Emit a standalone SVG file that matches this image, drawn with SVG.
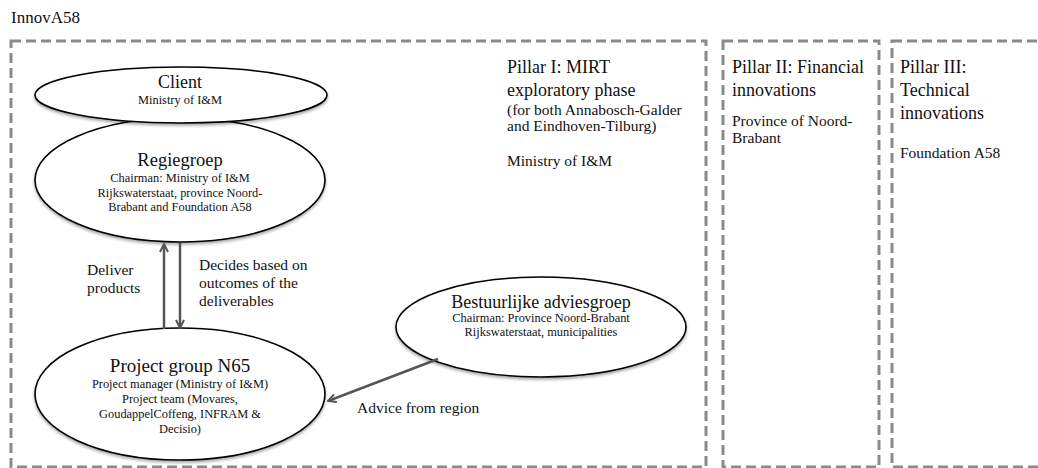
<svg xmlns="http://www.w3.org/2000/svg" width="1038" height="468" viewBox="0 0 1038 468">
<style>
.t{font-family:"Liberation Serif","Times New Roman",serif;fill:#111}
.big{font-size:18px}
.mid{font-size:15.5px}
.sm{font-size:12.4px}
.box{fill:none;stroke:#8a8a8a;stroke-width:3;stroke-dasharray:10 5}
.node{fill:#fff;stroke:#000;stroke-width:1.6;filter:url(#sh)}
.conn{stroke:#555;stroke-width:2.5;fill:none;marker-end:url(#ah)}
</style>
<defs>
<filter id="sh" x="-10%" y="-10%" width="120%" height="130%">
<feDropShadow dx="0" dy="2" stdDeviation="1.5" flood-color="#000" flood-opacity="0.35"/>
</filter>
<marker id="ah" viewBox="0 0 10 10" refX="9" refY="5" markerWidth="10" markerHeight="10" markerUnits="userSpaceOnUse" orient="auto">
<path d="M1,1 L9,5 L1,9" fill="none" stroke="#555" stroke-width="2"/>
</marker>
</defs>
<rect width="1038" height="468" fill="#fff"/>
<text class="t" x="11" y="23" font-size="17">InnovA58</text>
<g id="pillar1">
<rect class="box" x="11" y="41" width="695" height="426"/>
<text class="t big" x="507" y="73">Pillar I: MIRT</text>
<text class="t big" x="507" y="96">exploratory phase</text>
<text class="t mid" x="507" y="115">(for both Annabosch-Galder</text>
<text class="t mid" x="507" y="131">and Eindhoven-Tilburg)</text>
<text class="t mid" x="507" y="166">Ministry of I&amp;M</text>
</g>
<g id="pillar2">
<rect class="box" x="723" y="41" width="156" height="426"/>
<text class="t big" x="732" y="73">Pillar II: Financial</text>
<text class="t big" x="732" y="96">innovations</text>
<text class="t mid" x="732" y="126">Province of Noord-</text>
<text class="t mid" x="732" y="143">Brabant</text>
</g>
<g id="pillar3">
<rect class="box" x="892" y="41" width="160" height="426"/>
<text class="t big" x="900" y="73">Pillar III:</text>
<text class="t big" x="900" y="96">Technical</text>
<text class="t big" x="900" y="119">innovations</text>
<text class="t mid" x="900" y="158">Foundation A58</text>
</g>
<g id="regiegroep">
<ellipse class="node" cx="180" cy="180" rx="145" ry="62"/>
<text class="t" x="180" y="166" text-anchor="middle" font-size="18.5">Regiegroep</text>
<text class="t sm" x="180" y="182" text-anchor="middle">Chairman: Ministry of I&amp;M</text>
<text class="t sm" x="180" y="197" text-anchor="middle">Rijkswaterstaat, province Noord-</text>
<text class="t sm" x="180" y="211" text-anchor="middle">Brabant and Foundation A58</text>
</g>
<g id="client">
<ellipse class="node" cx="181" cy="95" rx="146" ry="28"/>
<text class="t big" x="180" y="88" text-anchor="middle">Client</text>
<text class="t sm" x="180" y="104" text-anchor="middle">Ministry of I&amp;M</text>
</g>
<g id="projectgroup">
<ellipse class="node" cx="180" cy="394" rx="145" ry="66"/>
<text class="t" x="180" y="372" text-anchor="middle" font-size="19">Project group N65</text>
<text class="t sm" x="180" y="388" text-anchor="middle">Project manager (Ministry of I&amp;M)</text>
<text class="t sm" x="180" y="403" text-anchor="middle">Project team (Movares,</text>
<text class="t sm" x="180" y="418" text-anchor="middle">GoudappelCoffeng, INFRAM &amp;</text>
<text class="t sm" x="180" y="433" text-anchor="middle">Decisio)</text>
</g>
<g id="bestuurlijke">
<ellipse class="node" cx="541" cy="327" rx="145" ry="50"/>
<text class="t big" x="541" y="308" text-anchor="middle">Bestuurlijke adviesgroep</text>
<text class="t sm" x="541" y="322" text-anchor="middle">Chairman: Province Noord-Brabant</text>
<text class="t sm" x="541" y="336" text-anchor="middle">Rijkswaterstaat, municipalities</text>
</g>
<g id="connectors">
<line class="conn" x1="164" y1="329" x2="164" y2="244"/>
<line class="conn" x1="180" y1="243" x2="180" y2="328"/>
<line class="conn" x1="438" y1="359" x2="328" y2="401"/>
<text class="t mid" x="87" y="275">Deliver</text>
<text class="t mid" x="87" y="293">products</text>
<text class="t mid" x="199" y="270">Decides based on</text>
<text class="t mid" x="199" y="288">outcomes of the</text>
<text class="t mid" x="199" y="306">deliverables</text>
<text class="t mid" x="357" y="413">Advice from region</text>
</g>
</svg>
